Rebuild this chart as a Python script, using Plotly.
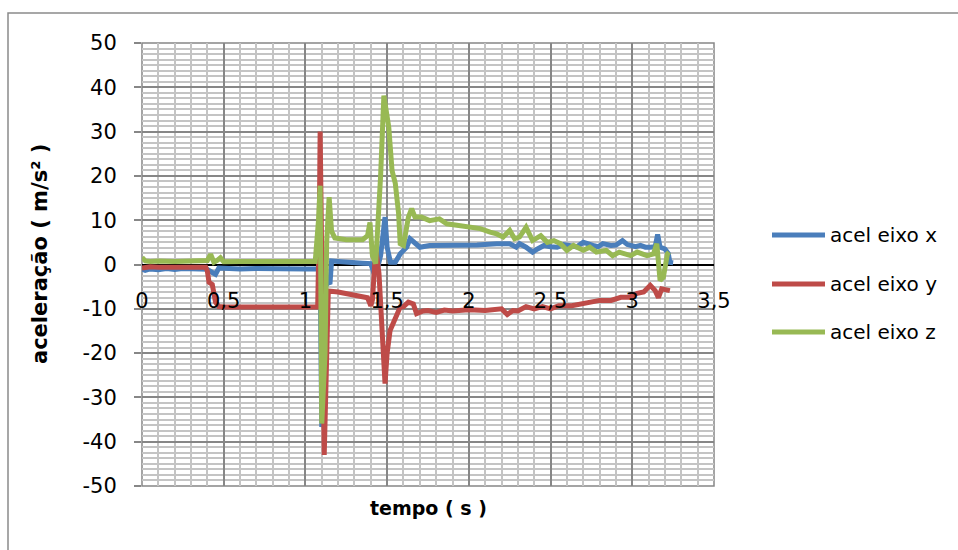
import plotly.graph_objects as go

# ---- data ----
series_names = ["acel eixo x", "acel eixo y", "acel eixo z"]
series_colors = ["#4A7EBB", "#BE4B48", "#98B954"]

t_x = [0, 0.02, 0.05, 0.1, 0.15, 0.2, 0.25, 0.3, 0.35, 0.40, 0.43, 0.45, 0.47, 0.5, 0.55,
       0.6, 0.7, 0.8, 0.9, 1.0, 1.09, 1.10, 1.12, 1.14, 1.15, 1.16, 1.2, 1.25, 1.3, 1.35,
       1.40, 1.42, 1.44, 1.46, 1.487, 1.50, 1.52, 1.55, 1.58, 1.62, 1.64, 1.67, 1.70, 1.76,
       1.85, 1.965, 2.05, 2.17, 2.25, 2.29, 2.31, 2.35, 2.37, 2.39, 2.42, 2.46, 2.50, 2.54,
       2.58, 2.62, 2.66, 2.70, 2.73, 2.76, 2.79, 2.82, 2.87, 2.90, 2.94, 2.97, 2.99, 3.02,
       3.05, 3.08, 3.11, 3.14, 3.155, 3.17, 3.20, 3.22, 3.23, 3.25]
a_x = [-1.0, -1.3, -1.0, -1.2, -0.9, -1.1, -0.9, -1.0, -1.0, -1.1, -1.8, -2.2, -0.8, -0.9, -0.8,
       -1.0, -0.9, -1.0, -0.9, -1.0, -1.0, -36.7, -5.0, -4.0, -4.4, 0.8, 0.7, 0.5, 0.4, 0.3,
       0.2, -2.0, -1.0, 2.0, 10.7, 3.9, 0.5, 0.5, 2.4, 3.9, 5.8, 4.7, 3.9, 4.3,
       4.3, 4.4, 4.4, 4.7, 4.7, 3.9, 4.7, 3.9, 3.2, 2.8, 3.5, 4.3, 4.0, 3.9,
       4.5, 4.3, 4.0, 5.0, 4.5, 4.3, 4.0, 4.7, 4.3, 4.4, 5.4, 4.5, 4.3, 4.0,
       4.3, 3.9, 3.9, 4.0, 6.8, 3.9, 3.5, 2.5, 0.5, 0.4]

t_y = [0, 0.05, 0.1, 0.2, 0.3, 0.39, 0.40, 0.41, 0.43, 0.45, 0.47, 0.5, 0.6, 0.8, 1.0, 1.075,
       1.085, 1.09, 1.115, 1.14, 1.2, 1.3, 1.38, 1.40, 1.41, 1.43, 1.45, 1.487, 1.50, 1.518,
       1.548, 1.58, 1.60, 1.63, 1.66, 1.68, 1.72, 1.75, 1.80, 1.85, 1.9, 2.0, 2.1, 2.2, 2.235,
       2.27, 2.3, 2.35, 2.4, 2.45, 2.5, 2.55, 2.63, 2.7, 2.8, 2.87, 2.93, 2.98, 3.03, 3.07,
       3.11, 3.14, 3.16, 3.18, 3.21, 3.23]
a_y = [-0.8, -0.5, -0.6, -0.5, -0.6, -0.6, -1.5, -4.0, -4.5, -8.5, -9.5, -9.6, -9.6, -9.6, -9.6, -9.6,
       10.0, 30.0, -43.0, -6.0, -6.2, -7.0, -7.5, -9.3, -8.0, 3.5, -2.0, -26.9, -20.0, -14.9,
       -12.6, -9.6, -9.5, -8.5, -8.9, -11.1, -10.5, -10.4, -10.8, -10.3, -10.5, -10.2, -10.4, -10.0, -11.3,
       -10.4, -10.5, -9.5, -10.0, -9.5, -10.0, -9.3, -9.3, -8.7, -8.1, -8.1, -7.4, -7.4, -6.5, -6.2,
       -4.7, -5.9, -7.5, -5.5, -5.9, -5.9]

t_z = [0, 0.02, 0.05, 0.1, 0.2, 0.3, 0.35, 0.40, 0.42, 0.44, 0.46, 0.48, 0.50, 0.55, 0.6, 0.7,
       0.8, 0.9, 1.0, 1.06, 1.08, 1.09, 1.10, 1.12, 1.13, 1.145, 1.16, 1.18, 1.25, 1.3, 1.35,
       1.38, 1.395, 1.41, 1.43, 1.46, 1.48, 1.51, 1.53, 1.55, 1.57, 1.58, 1.60, 1.63, 1.65,
       1.67, 1.71, 1.76, 1.82, 1.865, 1.95, 2.0, 2.07, 2.13, 2.17, 2.21, 2.25, 2.28, 2.31,
       2.35, 2.39, 2.44, 2.48, 2.52, 2.56, 2.60, 2.64, 2.70, 2.74, 2.78, 2.84, 2.88, 2.92,
       2.99, 3.03, 3.09, 3.13, 3.15, 3.17, 3.19, 3.215, 3.225]
a_z = [1.6, 0.8, 0.7, 0.8, 0.7, 0.8, 0.7, 0.9, 2.3, 0.5, 0.9, 1.5, 0.6, 0.7, 0.7, 0.7,
       0.7, 0.7, 0.7, 0.7, 10.0, 17.8, -35.9, -20.0, 5.0, 15.2, 7.5, 6.0, 5.6, 5.5, 5.6,
       6.5, 9.5, 2.0, 0.2, 20.0, 38.1, 31.0, 21.2, 18.3, 11.5, 4.7, 4.3, 10.7, 12.6,
       10.7, 10.7, 9.9, 10.3, 9.2, 8.8, 8.4, 8.1, 7.3, 6.9, 6.2, 7.7, 5.8, 6.2,
       8.4, 5.4, 6.5, 5.0, 5.4, 4.7, 3.2, 4.3, 3.2, 3.9, 2.8, 3.2, 2.0, 2.8,
       2.0, 2.8, 2.0, 2.4, 4.7, -3.6, -2.9, 2.4, 2.8]

x_tickvals = [0, 0.5, 1, 1.5, 2, 2.5, 3, 3.5]
x_ticktext = ["0", "0,5", "1", "1,5", "2", "2,5", "3", "3,5"]
y_tickvals = [50, 40, 30, 20, 10, 0, -10, -20, -30, -40, -50]
y_ticktext = ["50", "40", "30", "20", "10", "0", "-10", "-20", "-30", "-40", "-50"]

x_title = "tempo ( s )"
y_title = "aceleração ( m/s² )"

# ---- layout geometry (pixels) ----
W, H = 958, 550
L, R, T, B = 142, 714, 43, 486
FONT = "DejaVu Sans"


def px_x(p):
    return (p - L) / (R - L)


def px_y(p):
    return (B - p) / (B - T)


fig = go.Figure()
for tt, aa, name, col in zip([t_x, t_y, t_z], [a_x, a_y, a_z], series_names, series_colors):
    fig.add_trace(go.Scatter(x=tt, y=aa, mode="lines", name=name,
                             line=dict(color=col, width=5), showlegend=False))

major = "#878787"
minor = "#c4c4c4"

fig.update_layout(
    width=W, height=H,
    margin=dict(l=L, r=W - R, t=T, b=H - B, pad=0),
    paper_bgcolor="white", plot_bgcolor="white",
    font=dict(family=FONT, size=20, color="black"),
    xaxis=dict(range=[0, 3.5], tickvals=x_tickvals, ticktext=x_ticktext,
               showgrid=True, gridcolor=major, gridwidth=1.5,
               minor=dict(dtick=0.1, showgrid=True, gridcolor=minor, gridwidth=1.5),
               zeroline=False, showline=False, ticks="",
               anchor="free", position=0.5, ticklabelstandoff=21,
               tickfont=dict(family=FONT, size=21)),
    yaxis=dict(range=[-50, 50], tickvals=y_tickvals, ticktext=y_ticktext,
               showgrid=True, gridcolor=major, gridwidth=1.5,
               minor=dict(dtick=1.25, showgrid=True, gridcolor=minor, gridwidth=1.5),
               zeroline=True, zerolinecolor="black", zerolinewidth=2,
               showline=False, ticks="outside", ticklen=7, tickcolor=major, tickwidth=1.5,
               ticklabelstandoff=13,
               tickfont=dict(family=FONT, size=21)),
)

shapes = [
    # plot area border
    dict(type="rect", xref="paper", yref="paper", x0=0, x1=1, y0=0, y1=1,
         line=dict(color=major, width=1.5), layer="below"),
    # chart frame
    dict(type="rect", xref="paper", yref="paper", x0=px_x(8), x1=px_x(1000),
         y0=px_y(600), y1=px_y(13), line=dict(color="#8a8a8a", width=1.5)),
]
annotations = [
    dict(text="<b>%s</b>" % x_title, xref="paper", yref="paper", x=px_x(428), y=px_y(508),
         xanchor="center", yanchor="middle", showarrow=False,
         font=dict(family=FONT, size=19)),
    dict(text="<b>%s</b>" % y_title, xref="paper", yref="paper", x=px_x(40), y=px_y(254),
         xanchor="center", yanchor="middle", showarrow=False, textangle=-90,
         font=dict(family=FONT, size=21)),
]
leg_y = [235, 284, 332]
for name, col, yy in zip(series_names, series_colors, leg_y):
    shapes.append(dict(type="line", xref="paper", yref="paper", x0=px_x(772), x1=px_x(825),
                       y0=px_y(yy), y1=px_y(yy), line=dict(color=col, width=5)))
    annotations.append(dict(text=name, xref="paper", yref="paper", x=px_x(828), y=px_y(yy),
                            xanchor="left", yanchor="middle", showarrow=False,
                            font=dict(family=FONT, size=20)))
fig.update_layout(shapes=shapes, annotations=annotations)

fig.write_html("out.html")
